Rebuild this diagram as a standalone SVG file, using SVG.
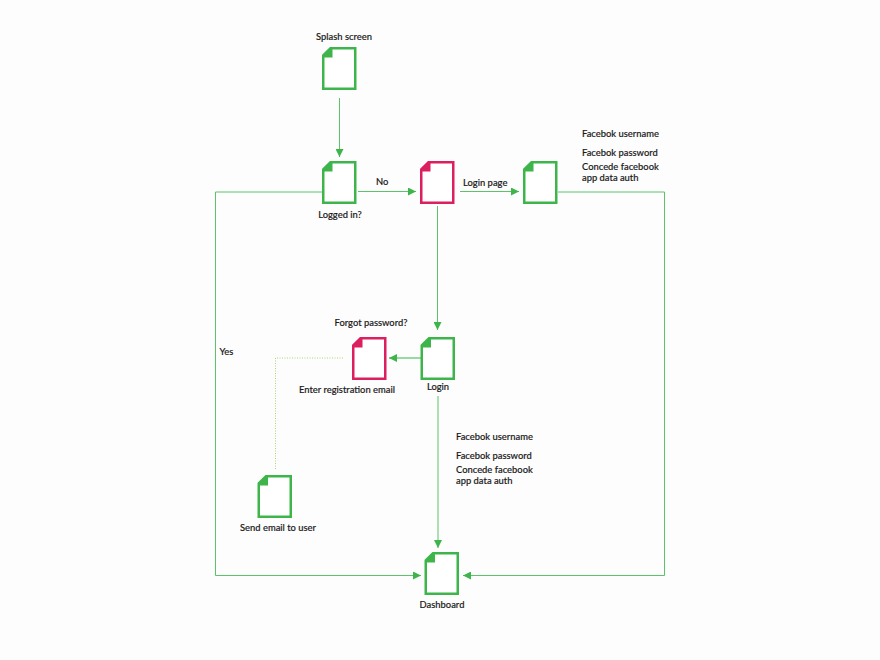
<svg xmlns="http://www.w3.org/2000/svg" width="880" height="660" viewBox="0 0 880 660">
<style>
.bg{fill:#fdfdfd}
.sheet{fill:#fff;stroke:currentColor;stroke-width:2.5;stroke-linejoin:miter}
.fold{fill:currentColor;stroke:none}
.green{color:#3db54a}
.red{color:#dc1f5e}
.c{fill:none;stroke:#5cc36a;stroke-width:1}
.thick{stroke-width:1.5;stroke:#74cf82}
.dot{stroke:#a5d96b;stroke-dasharray:1 1.5}
text{font-family:"Lato","Liberation Sans",sans-serif;font-size:9.4px;font-weight:500;fill:#1a1a1a;stroke:#1a1a1a;stroke-width:.15}
.m{text-anchor:middle}
</style>
<defs>
<marker id="a" viewBox="0 0 8 8" refX="8" refY="4" markerWidth="8" markerHeight="8" markerUnits="userSpaceOnUse" orient="auto"><path d="M0 0L8 4L0 8Z" fill="#3db54a"/></marker>
<g id="doc"><path class="sheet" d="M1.25 8.500L8.500 1.250H33.250V41.750H1.250Z"/><path class="fold" d="M1 8.500L8.500 1H10.500V10.500H1Z"/></g>
</defs>
<rect class="bg" width="880" height="660"/>
<g id="connectors">
<path class="c" marker-end="url(#a)" d="M339.500 98V157"/>
<path class="c" marker-end="url(#a)" d="M358 191.500H416"/>
<path class="c" marker-end="url(#a)" d="M460 191.500H519"/>
<path class="c" marker-end="url(#a)" d="M437.500 206V330"/>
<path class="c thick" marker-end="url(#a)" d="M421 358H389"/>
<path class="c" marker-end="url(#a)" d="M438 396V548"/>
<path class="c" marker-end="url(#a)" d="M322 192H215.500V575.500H421"/>
<path class="c" marker-end="url(#a)" d="M558 192H664.500V575.500H463"/>
<path class="c dot" d="M343 358H275.500V469"/>
</g>
<g id="n-splash" class="green"><use href="#doc" x="322" y="47"/><text class="m" x="344" y="40">Splash screen</text></g>
<g id="n-logged" class="green"><use href="#doc" x="322" y="161"/><text class="m" x="340" y="218">Logged in?</text></g>
<g id="n-decision" class="red"><use href="#doc" x="420" y="161"/></g>
<g id="n-loginpage" class="green"><use href="#doc" x="523" y="161"/></g>
<g id="n-login" class="green"><use href="#doc" x="420.500" y="337"/><text class="m" x="438" y="390">Login</text></g>
<g id="n-register" class="red"><use href="#doc" x="352" y="337"/><text class="m" x="371" y="326">Forgot password?</text><text class="m" x="347" y="393">Enter registration email</text></g>
<g id="n-send" class="green"><use href="#doc" x="257.500" y="475"/><text class="m" x="278" y="531">Send email to user</text></g>
<g id="n-dashboard" class="green"><use href="#doc" x="424.500" y="552"/><text class="m" x="442" y="608">Dashboard</text></g>
<g id="labels">
<text x="376" y="185">No</text>
<text x="463" y="186">Login page</text>
<text x="219.500" y="355">Yes</text>
<text x="582" y="137">Facebok username</text>
<text x="582" y="156">Facebok password</text>
<text x="582" y="170">Concede facebook</text>
<text x="582" y="181">app data auth</text>
<text x="456" y="440">Facebok username</text>
<text x="456" y="459">Facebok password</text>
<text x="456" y="473">Concede facebook</text>
<text x="456" y="484">app data auth</text>
</g>
</svg>
